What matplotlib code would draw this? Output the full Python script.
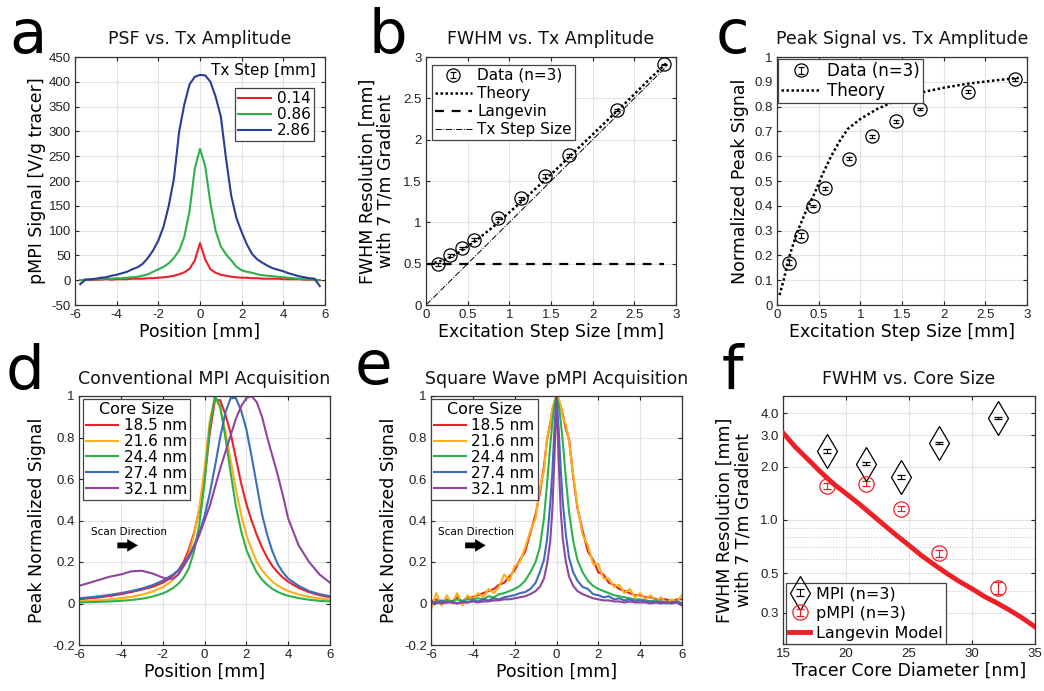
import numpy as np
import matplotlib.pyplot as plt
from matplotlib.ticker import FormatStrFormatter, NullLocator, FixedLocator, FixedFormatter
from matplotlib.container import ErrorbarContainer
from matplotlib.legend_handler import HandlerErrorbar

plt.rcParams['axes.unicode_minus'] = False
plt.rcParams['font.family'] = ['DejaVu Sans']

TICKF = 'Liberation Sans'
C = {
    "red":    "#EE2027",
    "orange": "#FBB016",
    "green":  "#2DB14A",
    "blue_a": "#2B3C97",
    "blue":   "#3B6CC0",
    "purple": "#8F45A0",
    "grid":   "#E3E3E3",
    "spine":  "#333333",
}

# ---------------- panel a: PSF vs Tx amplitude ----------------
pos_a = np.linspace(-5.75, 5.75, 47)
psf_286 = [-8, 1, 2, 3, 5, 6, 9, 11, 14, 17, 22, 26, 33, 45, 60, 80, 108, 150, 205, 300,
           355, 395, 410, 414, 413, 400, 370, 330, 245, 170, 125, 97, 72, 53, 42, 35, 29,
           24, 21, 18, 14, 11, 8, 6, 4, 3, -12]
psf_086 = [0, 1, 1, 2, 2, 3, 3, 4, 4, 5, 6, 7, 9, 12, 17, 22, 27, 34, 45, 60,
           88, 140, 225, 265, 230, 155, 100, 68, 52, 40, 27, 20, 17, 15, 12, 10, 9,
           8, 7, 6, 5, 4, 3, 2, 2, 1, 0]
psf_014 = [0, 1, 0, 1, 1, 2, 1, 2, 2, 2, 3, 3, 3, 4, 4, 5, 6, 7, 9, 12,
           16, 23, 40, 75, 42, 22, 15, 11, 9, 7, 6, 5, 5, 4, 4, 3, 3,
           3, 3, 2, 2, 2, 2, 1, 1, 1, 0]
tx_labels = ['0.14', '0.86', '2.86']

# ---------------- panel b: FWHM vs Tx amplitude ----------------
tx_step = [0.14, 0.29, 0.43, 0.57, 0.86, 1.14, 1.43, 1.71, 2.29, 2.86]
fwhm_data = [0.49, 0.60, 0.69, 0.79, 1.05, 1.29, 1.56, 1.81, 2.36, 2.91]
fwhm_err = [0.02, 0.02, 0.015, 0.02, 0.01, 0.015, 0.02, 0.015, 0.015, 0.01]
theory_b_x = [0.1, 0.2, 0.3, 0.4, 0.5, 0.6, 0.8, 1.0, 1.2, 1.5, 1.8, 2.1, 2.4, 2.7, 2.9]
theory_b_y = [0.51, 0.54, 0.58, 0.64, 0.71, 0.78, 0.94, 1.12, 1.30, 1.58, 1.87, 2.16, 2.45, 2.75, 2.94]
langevin_b_x = [0.0, 2.86]
langevin_b_y = [0.5, 0.5]
step_line = [0.0, 2.9]

# ---------------- panel c: peak signal vs Tx amplitude ----------------
peak_data = [0.17, 0.28, 0.40, 0.47, 0.59, 0.68, 0.74, 0.79, 0.86, 0.91]
peak_err = [0.01, 0.01, 0.005, 0.005, 0.005, 0.005, 0.005, 0.005, 0.005, 0.005]
theory_c_x = [0.03, 0.08, 0.12, 0.17, 0.25, 0.35, 0.45, 0.55, 0.65, 0.75, 0.85, 1.0,
              1.2, 1.4, 1.6, 1.8, 2.0, 2.3, 2.6, 2.9]
theory_c_y = [0.04, 0.10, 0.16, 0.22, 0.30, 0.38, 0.45, 0.53, 0.60, 0.66, 0.71, 0.75,
              0.79, 0.82, 0.845, 0.862, 0.876, 0.893, 0.905, 0.916]

# ---------------- panel d: conventional MPI ----------------
core_labels = ['18.5 nm', '21.6 nm', '24.4 nm', '27.4 nm', '32.1 nm']
pos_d = [-6, -5.5, -5, -4.5, -4, -3.5, -3, -2.5, -2, -1.75, -1.5, -1.25, -1, -0.75, -0.5,
         -0.25, 0, 0.25, 0.5, 0.75, 1, 1.25, 1.5, 1.75, 2, 2.25, 2.5, 2.75, 3, 3.25, 3.5,
         3.75, 4, 4.5, 5, 5.5, 6]
mpi_185 = [0.02, 0.025, 0.03, 0.037, 0.045, 0.055, 0.067, 0.08, 0.1, 0.115, 0.135, 0.16,
           0.2, 0.26, 0.34, 0.45, 0.6, 0.82, 0.98, 0.98, 0.91, 0.82, 0.7, 0.58, 0.48, 0.4,
           0.33, 0.27, 0.22, 0.18, 0.15, 0.125, 0.105, 0.075, 0.055, 0.04, 0.03]
mpi_216 = [0.01, 0.013, 0.016, 0.02, 0.025, 0.032, 0.042, 0.057, 0.078, 0.095, 0.115, 0.14,
           0.18, 0.24, 0.33, 0.46, 0.65, 0.88, 1.0, 0.94, 0.83, 0.69, 0.55, 0.43, 0.33, 0.26,
           0.2, 0.16, 0.13, 0.105, 0.087, 0.072, 0.06, 0.043, 0.032, 0.024, 0.018]
mpi_244 = [0.005, 0.006, 0.008, 0.01, 0.013, 0.017, 0.023, 0.033, 0.048, 0.06, 0.075, 0.095,
           0.125, 0.17, 0.25, 0.38, 0.58, 0.85, 1.0, 0.95, 0.8, 0.63, 0.47, 0.35, 0.26, 0.2,
           0.15, 0.115, 0.09, 0.07, 0.056, 0.045, 0.037, 0.026, 0.018, 0.013, 0.01]
mpi_274 = [0.025, 0.03, 0.035, 0.042, 0.05, 0.06, 0.072, 0.088, 0.11, 0.125, 0.14, 0.16,
           0.19, 0.23, 0.28, 0.34, 0.42, 0.53, 0.66, 0.8, 0.92, 0.99, 0.99, 0.93, 0.84, 0.71,
           0.57, 0.43, 0.33, 0.25, 0.19, 0.15, 0.12, 0.085, 0.06, 0.045, 0.035]
mpi_321 = [0.085, 0.1, 0.115, 0.13, 0.14, 0.155, 0.158, 0.145, 0.125, 0.118, 0.12, 0.14,
           0.18, 0.22, 0.27, 0.33, 0.4, 0.47, 0.56, 0.65, 0.73, 0.81, 0.89, 0.95, 0.99, 1.0,
           0.97, 0.9, 0.8, 0.71, 0.62, 0.52, 0.41, 0.28, 0.2, 0.14, 0.1]

# ---------------- panel e: square wave pMPI ----------------
pos_e = [-6.0, -5.75, -5.5, -5.25, -5.0, -4.75, -4.5, -4.25, -4.0, -3.75, -3.5, -3.25, -3.0,
         -2.75, -2.5, -2.25, -2.0, -1.75, -1.5, -1.25, -1.0, -0.8, -0.6, -0.45, -0.3, -0.2,
         -0.1, 0.0, 0.1, 0.2, 0.3, 0.45, 0.6, 0.8, 1.0, 1.25, 1.5, 1.75, 2.0, 2.25, 2.5, 2.75,
         3.0, 3.25, 3.5, 3.75, 4.0, 4.25, 4.5, 4.75, 5.0, 5.25, 5.5, 5.75, 6.0]
pmpi_185 = [0.01, 0.02, 0.0, 0.02, 0.01, 0.03, 0.01, 0.03, 0.03, 0.04, 0.05, 0.06, 0.07,
            0.09, 0.1, 0.13, 0.16, 0.21, 0.25, 0.34, 0.43, 0.53, 0.66, 0.79, 0.87, 0.93,
            0.97, 1.0, 0.98, 0.95, 0.91, 0.84, 0.79, 0.61, 0.46, 0.35, 0.25, 0.21, 0.15, 0.14,
            0.1, 0.09, 0.07, 0.06, 0.05, 0.04, 0.04, 0.03, 0.03, 0.02, 0.02, 0.02, 0.01, 0.02, 0.02]
pmpi_216 = [-0.03, 0.05, -0.01, 0.04, 0.0, 0.05, -0.01, 0.04, 0.02, 0.05, 0.03, 0.07, 0.05,
            0.08, 0.14, 0.11, 0.18, 0.2, 0.27, 0.35, 0.41, 0.55, 0.64, 0.8, 0.86, 0.94,
            0.97, 1.0, 0.99, 0.95, 0.9, 0.86, 0.78, 0.62, 0.47, 0.33, 0.28, 0.19, 0.19, 0.12,
            0.12, 0.08, 0.09, 0.05, 0.07, 0.03, 0.05, 0.02, 0.04, 0.01, 0.03, 0.0, 0.02, 0.01, 0.04]
pmpi_244 = [0.0, 0.01, 0.005, 0.015, 0.01, 0.02, 0.01, 0.02, 0.02, 0.025, 0.02, 0.035, 0.03,
            0.045, 0.05, 0.06, 0.07, 0.085, 0.11, 0.15, 0.2, 0.27, 0.41, 0.58, 0.76, 0.87,
            0.96, 1.0, 0.96, 0.88, 0.78, 0.6, 0.44, 0.3, 0.21, 0.15, 0.11, 0.085, 0.07, 0.06,
            0.05, 0.04, 0.035, 0.03, 0.025, 0.02, 0.02, 0.015, 0.01, 0.015, 0.005, 0.01, 0.0, 0.01, 0.0]
pmpi_274 = [0.01, 0.0, 0.015, 0.005, 0.01, 0.0, 0.01, 0.005, 0.015, 0.01, 0.02, 0.015, 0.025,
            0.02, 0.03, 0.035, 0.04, 0.05, 0.055, 0.07, 0.1, 0.15, 0.21, 0.31, 0.48, 0.63,
            0.84, 1.0, 0.85, 0.65, 0.49, 0.33, 0.22, 0.15, 0.11, 0.08, 0.07, 0.045, 0.04, 0.03,
            0.035, 0.02, 0.025, 0.015, 0.02, 0.01, 0.015, 0.01, 0.01, 0.005, 0.01, 0.0, 0.005, 0.01, 0.0]
pmpi_321 = [0.0, 0.005, 0.0, 0.005, 0.005, 0.0, 0.005, 0.005, 0.01, 0.005, 0.01, 0.01, 0.015,
            0.015, 0.02, 0.02, 0.025, 0.03, 0.035, 0.045, 0.06, 0.08, 0.12, 0.19, 0.3, 0.45,
            0.7, 1.0, 0.7, 0.45, 0.31, 0.2, 0.13, 0.085, 0.06, 0.045, 0.035, 0.025, 0.02, 0.015,
            0.015, 0.01, 0.01, 0.005, 0.01, 0.005, 0.005, 0.005, 0.0, 0.005, 0.0, 0.005, 0.0, 0.005, -0.01]

# ---------------- panel f: FWHM vs core size ----------------
core_nm = [18.5, 21.6, 24.4, 27.4, 32.1]
fwhm_mpi = [2.45, 2.08, 1.75, 2.72, 3.75]
fwhm_mpi_err = [0.06, 0.05, 0.05, 0.05, 0.04]
fwhm_pmpi = [1.55, 1.60, 1.16, 0.65, 0.415]
fwhm_pmpi_err = [0.06, 0.05, 0.04, 0.03, 0.03]
langevin_x = [15, 16, 17, 18, 19, 20, 21, 22, 23, 24, 25, 26, 27, 28, 29, 30, 31, 32, 33, 34, 35]
langevin_y = [3.10, 2.57, 2.19, 1.86, 1.60, 1.41, 1.24, 1.08, 0.94, 0.82, 0.72, 0.63, 0.56,
              0.50, 0.45, 0.41, 0.37, 0.34, 0.31, 0.28, 0.25]

W, H = 1044, 691
fig = plt.figure(figsize=(W / 100, H / 100), dpi=100, facecolor='white')
ERR_HANDLER = {ErrorbarContainer: HandlerErrorbar(xerr_size=0.2, yerr_size=0.2)}


def make_ax(l, t, r, b):
    return fig.add_axes([l / W, 1 - b / H, (r - l) / W, (b - t) / H])


def style(ax, xlim, ylim, xticks, yticks, xfmt='%g', yfmt='%g'):
    ax.set_xlim(*xlim)
    ax.set_ylim(*ylim)
    ax.set_xticks(xticks)
    ax.set_yticks(yticks)
    ax.xaxis.set_major_formatter(FormatStrFormatter(xfmt))
    ax.yaxis.set_major_formatter(FormatStrFormatter(yfmt))
    ax.grid(True, color=C["grid"], lw=0.8)
    ax.set_axisbelow(True)
    ax.tick_params(direction='in', top=True, right=True, length=3, width=0.8,
                   labelsize=9.5, colors='#222222', pad=3)
    for t in ax.get_xticklabels() + ax.get_yticklabels():
        t.set_family(TICKF)
    for s in ax.spines.values():
        s.set_color(C["spine"])
        s.set_linewidth(0.9)


def legend(ax, handles, labs, size=11, spacing=0.1, **kw):
    leg = ax.legend(handles, labs, prop={'size': size}, frameon=True,
                    fancybox=False, edgecolor='#444444', framealpha=1, borderaxespad=0,
                    borderpad=0.2, labelspacing=spacing, handletextpad=0.35,
                    handler_map=ERR_HANDLER, **kw)
    leg.get_frame().set_linewidth(0.9)
    return leg


def title(ax, txt):
    ax.set_title(txt, fontsize=12.5, pad=9, color='#111111')


def labels(ax, xl, yl, ylpad=2):
    ax.set_xlabel(xl, fontsize=12.5, labelpad=1)
    ax.set_ylabel(yl, fontsize=12.5, labelpad=ylpad, linespacing=1.0)


# ----- a -----
ax = make_ax(75, 57, 325, 305)
style(ax, (-6, 6), (-50, 450), range(-6, 7, 2), range(-50, 451, 50))
la = [ax.plot(pos_a, psf_014, color=C["red"], lw=1.5)[0],
      ax.plot(pos_a, psf_086, color=C["green"], lw=1.5)[0],
      ax.plot(pos_a, psf_286, color=C["blue_a"], lw=1.5)[0]]
title(ax, 'PSF vs. Tx Amplitude')
labels(ax, 'Position [mm]', 'pMPI Signal [V/g tracer]')
ax.text(0.965, 0.945, 'Tx Step [mm]', transform=ax.transAxes, ha='right', va='center',
        fontsize=11)
legend(ax, la, tx_labels, spacing=0.07, loc='upper right', bbox_to_anchor=(0.955, 0.875),
       handlelength=2.2)

# ----- b -----
ax = make_ax(426, 57, 676, 305)
style(ax, (0, 3), (0, 3), np.arange(0, 3.01, 0.5), np.arange(0, 3.01, 0.5))
eb = ax.errorbar(tx_step, fwhm_data, yerr=fwhm_err, fmt='o', mfc='none', mec='black', ms=9.5,
                 mew=0.9, ecolor='black', elinewidth=0.8, capsize=2, zorder=4)
th, = ax.plot(theory_b_x, theory_b_y, color='black', ls=(0, (1, 1)), lw=1.8)
lg, = ax.plot(langevin_b_x, langevin_b_y, color='black', ls=(0, (4, 3.5)), lw=1.6)
st, = ax.plot(step_line, step_line, color='black', ls='-.', lw=0.7)
title(ax, 'FWHM vs. Tx Amplitude')
labels(ax, 'Excitation Step Size [mm]', 'FWHM Resolution [mm]\nwith 7 T/m Gradient', ylpad=6)
legend(ax, [eb, th, lg, st], ['Data (n=3)', 'Theory', 'Langevin', 'Tx Step Size'],
       spacing=0.2, loc='upper left', bbox_to_anchor=(0.024, 0.968), handlelength=2.4)

# ----- c -----
ax = make_ax(777, 57, 1027, 305)
style(ax, (0, 3), (0, 1), np.arange(0, 3.01, 0.5), np.arange(0, 1.001, 0.1))
eb = ax.errorbar(tx_step, peak_data, yerr=peak_err, fmt='o', mfc='none', mec='black', ms=9.5,
                 mew=0.9, ecolor='black', elinewidth=0.8, capsize=2, zorder=4)
th, = ax.plot(theory_c_x, theory_c_y, color='black', ls=(0, (1, 1)), lw=1.8)
title(ax, 'Peak Signal vs. Tx Amplitude')
labels(ax, 'Excitation Step Size [mm]', 'Normalized Peak Signal', ylpad=4)
legend(ax, [eb, th], ['Data (n=3)', 'Theory'], size=12, spacing=0.1,
       loc='upper left', bbox_to_anchor=(0.004, 0.992), handlelength=2.4)

# ----- d & e -----
core_colors = [C["red"], C["orange"], C["green"], C["blue"], C["purple"]]
for (l, r), xs, series, ttl, tx0 in [
        ((79, 330), pos_d, [mpi_185, mpi_216, mpi_244, mpi_274, mpi_321],
         'Conventional MPI Acquisition', -5.45),
        ((431, 682), pos_e, [pmpi_185, pmpi_216, pmpi_244, pmpi_274, pmpi_321],
         'Square Wave pMPI Acquisition', -5.65)]:
    ax = make_ax(l, 396, r, 645)
    style(ax, (-6, 6), (-0.2, 1), range(-6, 7, 2), np.arange(-0.2, 1.01, 0.2))
    lines = [ax.plot(xs, ys, color=col, lw=1.5)[0] for ys, col in zip(series, core_colors)]
    title(ax, ttl)
    labels(ax, 'Position [mm]', 'Peak Normalized Signal', ylpad=4)
    legend(ax, lines, core_labels, spacing=0.06, loc='upper left',
           bbox_to_anchor=(0.016 if l < 400 else 0.0, 0.988),
           handlelength=2.1, title='Core Size', title_fontproperties={'size': 11.5})
    ax.text(tx0, 0.345, 'Scan Direction', fontsize=7.5, va='center')
    ax.annotate('', xy=(tx0 + 2.4, 0.28), xytext=(tx0 + 1.15, 0.28),
                arrowprops=dict(arrowstyle='simple,head_length=0.55,head_width=0.65,tail_width=0.3',
                                color='black', lw=0, mutation_scale=14))

# ----- f -----
ax = make_ax(783, 396, 1035, 644)
style(ax, (15, 35), (0.2, 5.0), range(15, 36, 5), [0.3, 0.5, 1.0, 2.0, 3.0, 4.0])
ax.set_yscale('log')
ax.set_ylim(0.2, 5.0)
ax.yaxis.set_major_locator(FixedLocator([0.3, 0.5, 1.0, 2.0, 3.0, 4.0]))
ax.yaxis.set_major_formatter(FixedFormatter(['0.3', '0.5', '1.0', '2.0', '3.0', '4.0']))
ax.yaxis.set_minor_locator(NullLocator())
for t in ax.get_yticklabels():
    t.set_family(TICKF)
for yv in [0.4, 0.6, 0.7, 0.8, 0.9]:
    ax.axhline(yv, color='#BBBBBB', lw=0.7, ls=(0, (1, 2)), zorder=0)
e1 = ax.errorbar(core_nm, fwhm_mpi, yerr=fwhm_mpi_err, fmt='d', mfc='none', mec='black', ms=17,
                 mew=0.9, ecolor='black', elinewidth=0.8, capsize=3, zorder=4)
e2 = ax.errorbar(core_nm, fwhm_pmpi, yerr=fwhm_pmpi_err, fmt='o', mfc='none', mec=C["red"],
                 ms=11, mew=0.9, ecolor=C["red"], elinewidth=0.8, capsize=3, zorder=4)
lm, = ax.plot(langevin_x, langevin_y, color=C["red"], lw=3.5, zorder=3)
title(ax, 'FWHM vs. Core Size')
labels(ax, 'Tracer Core Diameter [nm]', 'FWHM Resolution [mm]\nwith 7 T/m Gradient', ylpad=6)
legend(ax, [e1, e2, lm], ['MPI (n=3)', 'pMPI (n=3)', 'Langevin Model'], size=11.5,
       spacing=0.3, loc='lower left', bbox_to_anchor=(0.012, 0.0), handlelength=1.3)

# panel letters
for letter, x, y in [('a', 9, 53), ('b', 368, 53), ('c', 716, 53),
                     ('d', 6, 389), ('e', 355, 384), ('f', 722, 389)]:
    fig.text(x / W, 1 - y / H, letter, fontsize=44, va='baseline', ha='left')

fig.savefig('out.png', dpi=100, facecolor='white')
